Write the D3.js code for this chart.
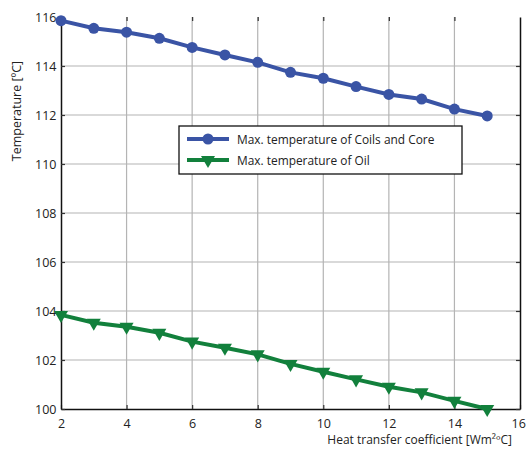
<!DOCTYPE html>
<html><head><meta charset="utf-8">
<script src="https://cdn.jsdelivr.net/npm/d3@7/dist/d3.min.js"></script>
<style>body{margin:0;background:#fff}svg{display:block}text{font-family:"Open Sans","DejaVu Sans Condensed",sans-serif}</style>
</head><body><svg id="c" width="526" height="450"></svg>
<script>
const xValues = [2,3,4,5,6,7,8,9,10,11,12,13,14,15];
const coilsCore = [115.85,115.54,115.38,115.13,114.76,114.45,114.15,113.74,113.5,113.16,112.84,112.65,112.24,111.96];
const oil = [103.84,103.52,103.36,103.11,102.75,102.5,102.23,101.84,101.52,101.21,100.91,100.68,100.33,100.0];
const xTicks = [2,4,6,8,10,12,14,16];
const yTicks = [100,102,104,106,108,110,112,114,116];
const seriesNames = ["Max. temperature of Coils and Core","Max. temperature of Oil"];
const xTitle = "Heat transfer coefficient [Wm²ºC]";
const yTitle = "Temperature [ºC]";

const svg = d3.select("#c");
const L=61, R=520, T=17, B=409;
const x = d3.scaleLinear().domain([2,16]).range([L,R]);
const y = d3.scaleLinear().domain([100,116]).range([B,T]);
const blue="#3a54a5", green="#12803c";

// grid
const g = svg.append("g");
g.selectAll(".vx").data(xTicks.slice(1,-1)).enter().append("line")
 .attr("x1",d=>x(d)).attr("x2",d=>x(d)).attr("y1",T).attr("y2",B)
 .attr("stroke","#b4b4b4").attr("stroke-width",1.2);
g.selectAll(".hy").data(yTicks.slice(1,-1)).enter().append("line")
 .attr("x1",L).attr("x2",R).attr("y1",d=>y(d)).attr("y2",d=>y(d))
 .attr("stroke","#b4b4b4").attr("stroke-width",1.2);

// axes
const ax = svg.append("g").attr("transform",`translate(0,${B})`)
 .call(d3.axisBottom(x).tickValues(xTicks).tickSizeInner(-4).tickSizeOuter(0).tickPadding(8));
const ay = svg.append("g").attr("transform",`translate(${L},0)`)
 .call(d3.axisLeft(y).tickValues(yTicks).tickSizeInner(-4).tickSizeOuter(0).tickPadding(7));
const axT = svg.append("g").attr("transform",`translate(0,${T})`)
 .call(d3.axisTop(x).tickValues(xTicks.slice(1,-1)).tickSizeInner(-4).tickSizeOuter(0).tickFormat(""));
const ayR = svg.append("g").attr("transform",`translate(${R},0)`)
 .call(d3.axisRight(y).tickValues(yTicks.slice(0,-1)).tickSizeInner(-4).tickSizeOuter(0).tickFormat(""));
axT.select(".domain").remove();
[ax,ay,ayR].forEach(a=>{a.select(".domain").attr("stroke","#111").attr("stroke-width",1.5);});
[ax,ay,axT,ayR].forEach(a=>{a.selectAll(".tick line").attr("stroke","#333").attr("stroke-width",1.2);
 a.selectAll("text").attr("font-size",12.5).attr("fill","#222").style("font-family",'"Open Sans",sans-serif');});
ax.selectAll("text").attr("dy","0.9em");
ax.selectAll(".tick").filter(d=>d===16).select("text").attr("dx","-0.15em");
ay.selectAll("text").attr("dx","0.2em");

// titles
svg.append("text").attr("x",512).attr("y",444).attr("text-anchor","end")
 .attr("font-size",12).attr("fill","#222").text(xTitle);
svg.append("text").attr("transform","translate(21,111) rotate(-90)").attr("text-anchor","middle")
 .attr("font-size",12.5).attr("fill","#222").text(yTitle);

// series
const line = d3.line().x((d,i)=>x(xValues[i])).y(d=>y(d));
svg.append("path").datum(coilsCore).attr("d",line).attr("fill","none").attr("stroke",blue).attr("stroke-width",4);
svg.selectAll(".c").data(coilsCore).enter().append("circle")
 .attr("cx",(d,i)=>x(xValues[i])).attr("cy",d=>y(d)).attr("r",5.5).attr("fill",blue);
svg.append("path").datum(oil).attr("d",line).attr("fill","none").attr("stroke",green).attr("stroke-width",4);
const tri = d3.symbol().type(d3.symbolTriangle).size(85);
svg.selectAll(".t").data(oil).enter().append("path")
 .attr("d",tri).attr("transform",(d,i)=>`translate(${x(xValues[i])},${y(d)}) rotate(180)`).attr("fill",green);

// legend
const lg = svg.append("g");
lg.append("rect").attr("x",179).attr("y",126).attr("width",283).attr("height",48)
 .attr("fill","#fff").attr("stroke","#111").attr("stroke-width",1.3);
const rows=[{c:blue,m:"c",n:seriesNames[0],yy:139},{c:green,m:"t",n:seriesNames[1],yy:160}];
rows.forEach(r=>{
 lg.append("line").attr("x1",187).attr("x2",229).attr("y1",r.yy).attr("y2",r.yy).attr("stroke",r.c).attr("stroke-width",4);
 if(r.m==="c") lg.append("circle").attr("cx",208).attr("cy",r.yy).attr("r",5.5).attr("fill",r.c);
 else lg.append("path").attr("d",tri).attr("transform",`translate(208,${r.yy}) rotate(180)`).attr("fill",r.c);
 lg.append("text").attr("x",237).attr("y",r.yy+4.5).attr("font-size",11.9).attr("fill","#222").text(r.n);
});
</script></body></html>
